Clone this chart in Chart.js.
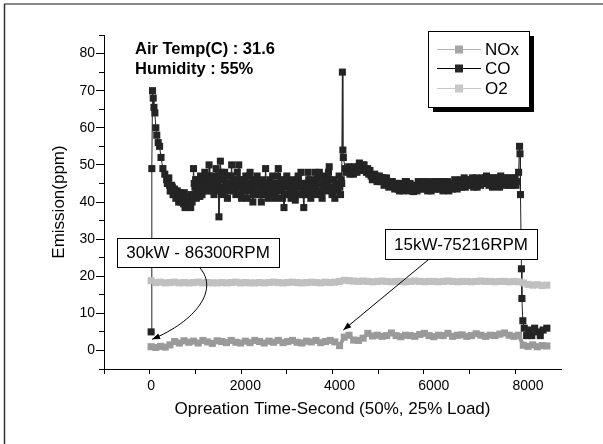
<!DOCTYPE html>
<html>
<head>
<meta charset="utf-8">
<script src="https://cdn.jsdelivr.net/npm/chart.js@4.4.1/dist/chart.umd.min.js"></script>
<style>
html, body { margin: 0; padding: 0; background: #fff; }
#wrap { position: relative; width: 603px; height: 444px; }
</style>
</head>
<body>
<div id="wrap"><canvas id="myChart" width="603" height="444"></canvas></div>
<script>
// sample times (s) shared by NOx and O2
const gasTimes = [
    0, 100, 200, 300, 400, 500, 600, 700, 800, 900,
    1000, 1100, 1200, 1300, 1400, 1500, 1600, 1700, 1800, 1900,
    2000, 2100, 2200, 2300, 2400, 2500, 2600, 2700, 2800, 2900,
    3000, 3100, 3200, 3300, 3400, 3500, 3600, 3700, 3800, 3900,
    4000, 4100, 4200, 4300, 4400, 4500, 4600, 4700, 4800, 4900,
    5000, 5100, 5200, 5300, 5400, 5500, 5600, 5700, 5800, 5900,
    6000, 6100, 6200, 6300, 6400, 6500, 6600, 6700, 6800, 6900,
    7000, 7100, 7200, 7300, 7400, 7500, 7600, 7700, 7800, 7900,
    8000, 8100, 8200, 8300, 8400
];
const noxValues = [
    1.0, 0.8, 1.1, 0.9, 1.5, 2.4, 2.0, 2.6, 2.2, 2.5,
    2.0, 2.7, 2.3, 1.9, 2.6, 2.4, 2.1, 2.7, 2.2, 2.0,
    2.5, 2.1, 2.7, 2.4, 2.0, 2.5, 2.2, 2.7, 2.1, 2.4,
    2.7, 2.2, 2.0, 2.5, 2.3, 2.7, 2.1, 2.4, 2.7, 2.3,
    1.3, 3.6, 4.1, 2.8, 2.7, 3.3, 4.6, 3.9, 4.1, 3.8,
    4.0, 4.7, 4.0, 3.7, 4.1, 4.0, 3.8, 4.3, 4.6, 4.0,
    3.7, 4.1, 4.0, 4.6, 3.8, 4.1, 4.2, 3.8, 4.0, 4.5,
    4.1, 3.8, 4.1, 4.0, 4.4, 4.7, 4.1, 3.8, 4.1, 1.4,
    1.1, 1.5, 1.0, 1.3, 1.2
];
const o2Values = [
    18.8, 18.3, 18.4, 18.2, 18.3, 18.4, 18.2, 18.3, 18.2, 18.3,
    18.4, 18.2, 18.3, 18.2, 18.2, 18.3, 18.2, 18.3, 18.4, 18.2,
    18.3, 18.2, 18.2, 18.3, 18.2, 18.3, 18.4, 18.3, 18.2, 18.3,
    18.4, 18.3, 18.2, 18.3, 18.4, 18.3, 18.2, 18.4, 18.3, 18.4,
    18.6, 18.9, 18.8, 18.7, 18.6, 18.7, 18.6, 18.5, 18.6, 18.7,
    18.6, 18.5, 18.6, 18.6, 18.5, 18.6, 18.7, 18.6, 18.5, 18.6,
    18.6, 18.5, 18.6, 18.7, 18.6, 18.5, 18.6, 18.6, 18.5, 18.6,
    18.7, 18.6, 18.6, 18.5, 18.6, 18.6, 18.5, 18.6, 18.5, 18.2,
    17.8, 17.6, 17.7, 17.5, 17.6
];

// CO has its own, denser sample times
const coTimes = [
    0, 15, 30, 45, 60, 80, 100, 120, 150, 180,
    210, 250, 290,
    330, 345, 360, 375, 390, 405, 420, 435, 450, 465, 480, 495, 510, 525, 540, 555, 570, 585, 600, 615,
    630, 645, 660, 675, 690, 705, 720, 735, 750, 765, 780, 795, 810, 825, 840, 855, 870, 885, 900, 915,
    930, 945, 960, 975, 990, 1005, 1020, 1035, 1050, 1065, 1080, 1095, 1110, 1125, 1140, 1155, 1170, 1185, 1200, 1215,
    1230, 1245, 1260, 1275, 1290, 1305, 1320, 1335, 1350, 1365, 1380, 1395, 1410, 1425, 1440, 1455, 1470, 1485, 1500, 1515,
    1530, 1545, 1560, 1575, 1590, 1605, 1620, 1635, 1650, 1665, 1680, 1695, 1710, 1725, 1740, 1755, 1770, 1785, 1800, 1815,
    1830, 1845, 1860, 1875, 1890, 1905, 1920, 1935, 1950, 1965, 1980, 1995, 2010, 2025, 2040, 2055, 2070, 2085, 2100, 2115,
    2130, 2145, 2160, 2175, 2190, 2205, 2220, 2235, 2250, 2265, 2280, 2295, 2310, 2325, 2340, 2355, 2370, 2385, 2400, 2415,
    2430, 2445, 2460, 2475, 2490, 2505, 2520, 2535, 2550, 2565, 2580, 2595, 2610, 2625, 2640, 2655, 2670, 2685, 2700, 2715,
    2730, 2745, 2760, 2775, 2790, 2805, 2820, 2835, 2850, 2865, 2880, 2895, 2910, 2925, 2940, 2955, 2970, 2985, 3000, 3015,
    3030, 3045, 3060, 3075, 3090, 3105, 3120, 3135, 3150, 3165, 3180, 3195, 3210, 3225, 3240, 3255, 3270, 3285, 3300, 3315,
    3330, 3345, 3360, 3375, 3390, 3405, 3420, 3435, 3450, 3465, 3480, 3495, 3510, 3525, 3540, 3555, 3570, 3585, 3600, 3615,
    3630, 3645, 3660, 3675, 3690, 3705, 3720, 3735, 3750, 3765, 3780, 3795, 3810, 3825, 3840, 3855, 3870, 3885, 3900, 3915,
    3930, 3945, 3960, 3975, 3990, 4005, 4020, 4035,
    4045, 4060, 4070, 4080,
    4120, 4145, 4170, 4195, 4220, 4245, 4270, 4295, 4320, 4345, 4370, 4395, 4420, 4445, 4470, 4495, 4520, 4545, 4570, 4595,
    4620, 4645, 4670, 4695, 4720, 4745, 4770, 4795, 4820, 4845, 4870, 4895, 4920, 4945, 4970, 4995, 5020, 5045, 5070, 5095,
    5120, 5145, 5170, 5195, 5220, 5245, 5270, 5295, 5320, 5345, 5370, 5395, 5420, 5445, 5470, 5495, 5520, 5545, 5570, 5595,
    5620, 5645, 5670, 5695, 5720, 5745, 5770, 5795, 5820, 5845, 5870, 5895, 5920, 5945, 5970, 5995, 6020, 6045, 6070, 6095,
    6120, 6145, 6170, 6195, 6220, 6245, 6270, 6295, 6320, 6345, 6370, 6395, 6420, 6445, 6470, 6495, 6520, 6545, 6570, 6595,
    6620, 6645, 6670, 6695, 6720, 6745, 6770, 6795, 6820, 6845, 6870, 6895, 6920, 6945, 6970, 6995, 7020, 7045, 7070, 7095,
    7120, 7145, 7170, 7195, 7220, 7245, 7270, 7295, 7320, 7345, 7370, 7395, 7420, 7445, 7470, 7495, 7520, 7545, 7570, 7595,
    7620, 7645, 7670, 7695, 7720, 7745, 7770,
    7800, 7820, 7830, 7840, 7860, 7870, 7890, 7920, 7970, 8020,
    8080, 8140, 8200, 8260, 8320, 8400
];
const coValues = [
    5, 49, 70, 68, 65.5, 64, 60, 58, 56, 55,
    52, 49, 47.5,
    46, 45, 45, 46.5, 44.5, 43, 43, 44.5, 44, 42, 42, 43.5, 43, 41, 41.5, 43, 42.5, 40, 41, 42.5,
    40, 41, 42, 40, 39.5, 42.5, 38.5, 40, 40.5, 41.5, 39, 40.5, 41, 39.5, 38.5, 42, 40, 41.5, 49, 45,
    44, 46, 41, 43, 46, 45, 43, 41.5, 47, 44, 42, 46, 45, 43, 48, 45, 44, 47, 46, 43,
    50, 47, 45, 44, 43, 46, 47, 42, 44, 46, 49, 43, 45, 47, 36, 44, 51, 48, 46, 43,
    42, 46, 48, 44, 44, 45, 41, 43, 47, 45, 45, 47, 50, 44, 43, 46, 46, 44, 42, 45,
    48, 44, 50, 46, 44, 42, 41, 45, 46, 43, 43, 46, 47, 44, 41, 43, 45, 47, 48, 44,
    43, 45, 40, 42, 46, 44, 44, 46, 47, 44, 42, 45, 45, 42, 40, 44, 46, 42, 43, 45,
    49, 45, 44, 42, 41, 44, 46, 43, 42, 45, 47, 45, 44, 42, 41, 43, 45, 47, 49, 45,
    43, 44, 46, 43, 41, 45, 38.5, 42, 45, 46, 47, 44, 42, 45, 44, 42, 41, 44, 46, 43,
    43, 42, 40.5, 44, 45, 46, 47, 44, 42, 45, 48, 45, 44, 42, 38.5, 43, 45, 44, 42, 45,
    48, 46, 44, 42, 41, 44, 46, 45, 43, 45, 48, 44, 42, 46, 45, 47, 48, 45, 43, 42,
    41, 43, 45, 46, 47, 44, 43, 45, 46, 48, 49.5, 46, 44, 43, 42, 44, 46, 43, 41, 44,
    45, 44, 43, 45, 47, 44, 42, 46,
    45, 75, 54, 52,
    49, 48, 48.5, 49.5, 47.5, 48.5, 48.5, 47.5, 49.5, 48.5, 48, 49.5, 50.5, 48.5, 49, 50, 50, 48.5, 48, 49,
    47.5, 48.5, 47, 46, 46.5, 47.5, 47, 45.5, 46, 47, 45.5, 46.5, 46.5, 44.5, 45, 46.5, 45.5, 44, 44.5, 45.5,
    45.5, 44.5, 43.5, 45, 45, 43.5, 43, 45, 44.5, 43, 44, 45.5, 45.5, 43.5, 43, 45, 44.5, 43, 42.8, 44.5,
    44, 43, 45.5, 44, 43.5, 45, 45.5, 43.5, 44, 45.5, 43, 44.5, 44.5, 43, 45.5, 44, 43.5, 45.5, 45, 43.5,
    43.5, 45.5, 44.5, 43, 45.5, 44, 43.5, 45.5, 43, 44.5, 45, 43.5, 44.5, 46, 45.5, 43.5, 44, 45.5, 46, 44,
    45, 46.5, 44, 45.5, 46, 44.5, 44.5, 46, 46.5, 44, 45, 46.5, 44, 45.5, 46, 44.5, 46.5, 45, 45, 46.5,
    47, 45, 44.5, 46.5, 45.5, 44, 46.5, 45, 44.5, 46.5, 45.5, 44, 47, 45.5, 45, 46.5, 44.5, 46, 46.5, 44.5,
    45.5, 46.5, 44.5, 45, 46.5, 44.5, 45.5,
    48, 55, 53, 42, 22, 14, 8, 6, 4, 5.5,
    4, 6, 5, 4, 5.5, 6
];

const seriesNames = ['NOx', 'CO', 'O2'];
const xTicksMajor = [0, 2000, 4000, 6000, 8000];
const yTicksMajor = [0, 10, 20, 30, 40, 50, 60, 70, 80];
const noteLines = ['Air Temp(C) : 31.6', 'Humidity : 55%'];
const calloutTexts = ['30kW - 86300RPM', '15kW-75216RPM'];

const FONT = 'Liberation Sans, Arial, Helvetica, sans-serif';
const NOX_COLOR = '#9a9a9a';
const CO_COLOR = '#242424';
const O2_COLOR = '#c0c0c0';

function pairs(xs, ys) {
    return xs.map((x, i) => ({ x: x, y: ys[i] }));
}

function isMajor(list, v) {
    return list.some(m => Math.abs(m - v) < 1e-6);
}

function arrowHead(ctx, fromX, fromY, toX, toY, len, half) {
    const ang = Math.atan2(toY - fromY, toX - fromX);
    ctx.beginPath();
    ctx.moveTo(toX, toY);
    ctx.lineTo(toX - len * Math.cos(ang) + half * Math.sin(ang), toY - len * Math.sin(ang) - half * Math.cos(ang));
    ctx.lineTo(toX - len * Math.cos(ang) - half * Math.sin(ang), toY - len * Math.sin(ang) + half * Math.cos(ang));
    ctx.closePath();
    ctx.fill();
}

function callout(ctx, text, left, top, w, h) {
    ctx.fillStyle = '#fff';
    ctx.fillRect(left, top, w, h);
    ctx.strokeStyle = '#000';
    ctx.lineWidth = 1;
    ctx.strokeRect(left + 0.5, top + 0.5, w, h);
    ctx.fillStyle = '#000';
    ctx.font = '17px ' + FONT;
    ctx.textAlign = 'center';
    ctx.textBaseline = 'middle';
    ctx.fillText(text, left + w / 2, top + h / 2 + 1);
}

const decorations = {
    id: 'decorations',
    beforeDraw(chart) {
        const ctx = chart.ctx;
        ctx.save();
        ctx.fillStyle = '#fff';
        ctx.fillRect(0, 0, chart.width, chart.height);
        // page frame
        ctx.strokeStyle = '#888';
        ctx.lineWidth = 2;
        ctx.beginPath();
        ctx.moveTo(4, 4);
        ctx.lineTo(chart.width, 4);
        ctx.stroke();
        ctx.strokeStyle = '#333';
        ctx.lineWidth = 1.5;
        ctx.beginPath();
        ctx.moveTo(4.5, 4);
        ctx.lineTo(4.5, chart.height);
        ctx.stroke();
        ctx.restore();
    },
    afterDraw(chart) {
        const ctx = chart.ctx;
        const xs = chart.scales.x, ys = chart.scales.y;
        ctx.save();

        // x tick labels under the major ticks
        ctx.fillStyle = '#000';
        ctx.font = '14px ' + FONT;
        ctx.textAlign = 'center';
        ctx.textBaseline = 'alphabetic';
        xTicksMajor.forEach(v => {
            ctx.fillText(String(v), xs.getPixelForValue(v), xs.top + 21);
        });

        // conditions note
        ctx.font = 'bold 16.5px ' + FONT;
        ctx.textAlign = 'left';
        ctx.fillText(noteLines[0], 135, 54);
        ctx.fillText(noteLines[1], 135, 74);

        // legend with shadow
        const lx = 428, ly = 31, lw = 101, lh = 76;
        ctx.fillStyle = '#000';
        ctx.fillRect(lx + 5, ly + 5, lw, lh);
        ctx.fillStyle = '#fff';
        ctx.fillRect(lx, ly, lw, lh);
        ctx.strokeStyle = '#000';
        ctx.lineWidth = 1;
        ctx.strokeRect(lx + 0.5, ly + 0.5, lw, lh);
        const rows = [
            { name: seriesNames[0], line: '#b4b4b4', mark: '#a6a6a6', y: 49 },
            { name: seriesNames[1], line: '#000', mark: '#262626', y: 68 },
            { name: seriesNames[2], line: '#c8c8c8', mark: '#c8c8c8', y: 88 }
        ];
        ctx.font = '17px ' + FONT;
        ctx.textBaseline = 'middle';
        rows.forEach(r => {
            ctx.strokeStyle = r.line;
            ctx.beginPath();
            ctx.moveTo(437, r.y + 0.5);
            ctx.lineTo(481, r.y + 0.5);
            ctx.stroke();
            ctx.fillStyle = r.mark;
            ctx.fillRect(455, r.y - 3.5, 8, 8);
            ctx.fillStyle = '#000';
            ctx.fillText(r.name, 485, r.y + 1);
        });

        // callout 1 with curved arrow to the start of the run
        callout(ctx, calloutTexts[0], 117, 238, 162, 29);
        const t1x = xs.getPixelForValue(20), t1y = ys.getPixelForValue(3);
        ctx.strokeStyle = '#000';
        ctx.lineWidth = 1;
        ctx.beginPath();
        ctx.moveTo(200, 268);
        ctx.bezierCurveTo(219, 290, 196, 321, t1x, t1y);
        ctx.stroke();
        ctx.fillStyle = '#000';
        arrowHead(ctx, 190, 323, t1x, t1y, 8, 3);

        // callout 2 with straight arrow to the load change
        callout(ctx, calloutTexts[1], 385, 229, 152, 30);
        const t2x = xs.getPixelForValue(4080), t2y = ys.getPixelForValue(5.5);
        ctx.beginPath();
        ctx.moveTo(428, 260);
        ctx.lineTo(t2x, t2y);
        ctx.stroke();
        arrowHead(ctx, 428, 260, t2x, t2y, 8, 3);

        ctx.restore();
    }
};

const ctx = document.getElementById('myChart').getContext('2d');
new Chart(ctx, {
    type: 'scatter',
    data: {
        datasets: [
            {
                label: seriesNames[0],
                data: pairs(gasTimes, noxValues),
                showLine: true,
                borderColor: NOX_COLOR,
                backgroundColor: NOX_COLOR,
                borderWidth: 4,
                pointStyle: 'rect',
                pointRadius: 5,
                pointBorderWidth: 0,
                order: 3
            },
            {
                label: seriesNames[1],
                data: pairs(coTimes, coValues),
                showLine: true,
                borderColor: CO_COLOR,
                backgroundColor: CO_COLOR,
                borderWidth: 1,
                pointStyle: 'rect',
                pointRadius: 5,
                pointBorderWidth: 0,
                order: 2
            },
            {
                label: seriesNames[2],
                data: pairs(gasTimes, o2Values),
                showLine: true,
                borderColor: O2_COLOR,
                backgroundColor: O2_COLOR,
                borderWidth: 4,
                pointStyle: 'rect',
                pointRadius: 5,
                pointBorderWidth: 0,
                order: 1
            }
        ]
    },
    options: {
        responsive: false,
        animation: false,
        devicePixelRatio: 1,
        layout: { padding: { top: 35, right: 42, left: 0, bottom: 0 } },
        plugins: {
            legend: { display: false },
            tooltip: { enabled: false }
        },
        scales: {
            x: {
                type: 'linear',
                min: -1000,
                max: 8700,
                border: { display: true, color: '#000', width: 1 },
                grid: {
                    drawOnChartArea: false,
                    drawTicks: true,
                    tickLength: 5,
                    color: '#000',
                    tickColor: c => (c.tick && c.tick.value > 8000) ? 'rgba(0,0,0,0)' : '#000'
                },
                ticks: {
                    stepSize: 1000,
                    autoSkip: false,
                    maxRotation: 0,
                    padding: 3,
                    color: '#000',
                    font: { family: FONT, size: 14 },
                    callback: () => ''
                },
                title: {
                    display: true,
                    text: 'Opreation Time-Second (50%, 25% Load)',
                    color: '#000',
                    font: { family: FONT, size: 17 },
                    padding: { top: 0, bottom: 24 }
                },
                afterFit: s => { s.height = 75; }
            },
            y: {
                type: 'linear',
                min: -5,
                max: 85,
                border: { display: true, color: '#000', width: 1 },
                grid: {
                    drawOnChartArea: false,
                    drawTicks: true,
                    tickLength: 8,
                    color: '#000',
                    tickBorderDash: c => (c.tick && !isMajor(yTicksMajor, c.tick.value)) ? [5, 3] : [],
                    tickBorderDashOffset: c => (c.tick && !isMajor(yTicksMajor, c.tick.value)) ? 5 : 0
                },
                ticks: {
                    stepSize: 5,
                    autoSkip: false,
                    padding: 1,
                    color: '#000',
                    font: { family: FONT, size: 14 },
                    callback: v => isMajor(yTicksMajor, v) ? String(v) : ''
                },
                title: {
                    display: true,
                    text: 'Emission(ppm)',
                    color: '#000',
                    font: { family: FONT, size: 17 },
                    padding: { top: 49, bottom: 0 }
                },
                afterFit: s => { s.width = 104; }
            }
        }
    },
    plugins: [decorations]
});
</script>
</body>
</html>
